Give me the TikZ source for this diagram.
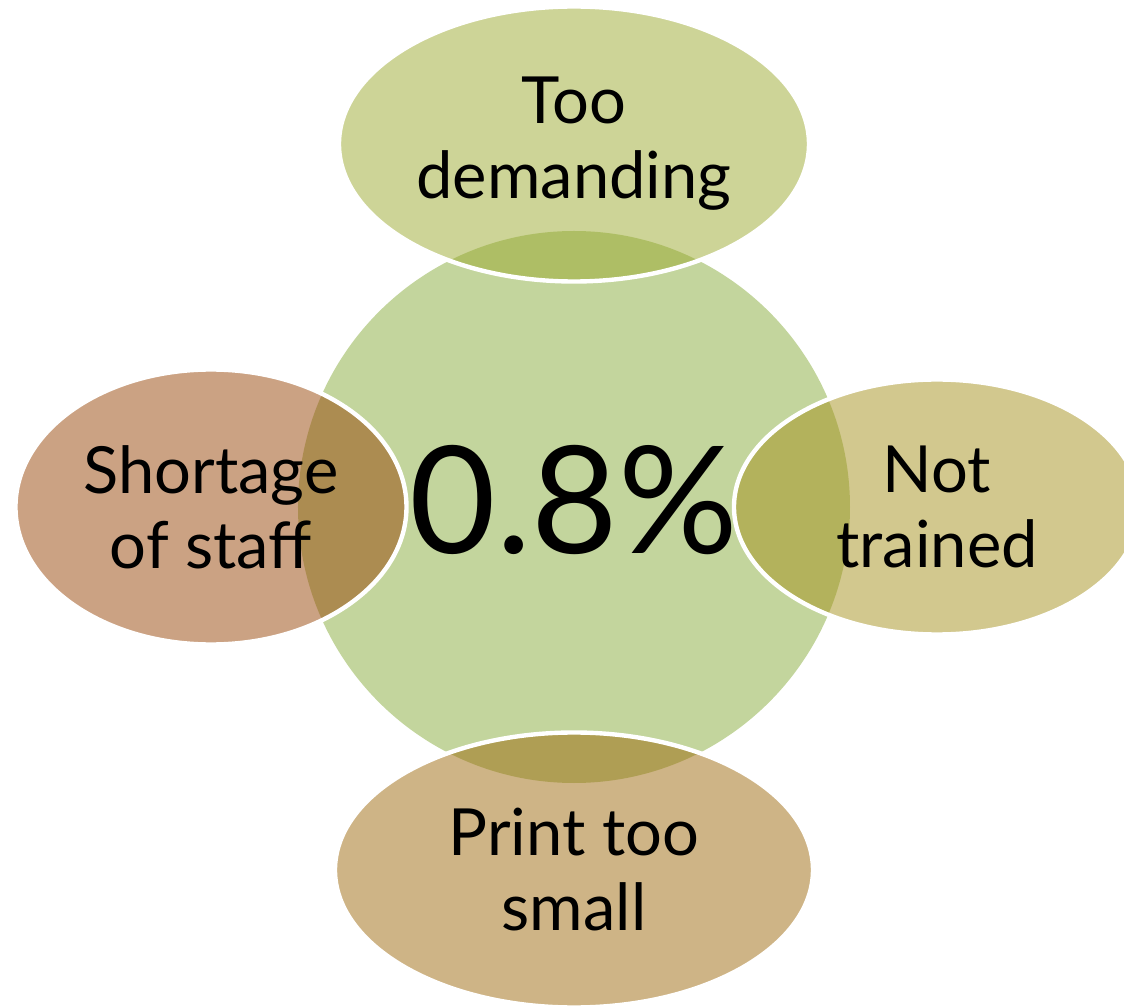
\documentclass[tikz,border=0pt]{standalone}
\usepackage{fontspec}
\setmainfont{Lato}
\usetikzlibrary{positioning,shapes.geometric}
\definecolor{hubgreen}{RGB}{195,213,157}
\definecolor{topolive}{RGB}{155,169,47}
\definecolor{leftrust}{RGB}{151,69,7}
\definecolor{rightkhaki}{RGB}{165,145,29}
\definecolor{bottomtan}{RGB}{157,105,13}
\begin{document}
\begin{tikzpicture}[
            hub/.style={circle,fill=hubgreen,minimum size=11.04cm,inner sep=0pt,text depth=0.3cm,font=\fontsize{85}{95}\selectfont},
            petal/.style={ellipse,draw=white,line width=2.5pt,fill opacity=0.5,text opacity=1,inner sep=0pt,align=center,minimum height=5.5cm,font=\fontsize{37}{42.7}\selectfont},
            node distance=7.26cm
        ]
            \useasboundingbox (-11.48,-9.98) rectangle (11.0,10.14);
            \node[hub] (hub) {0.8\%};
            \node[petal,fill=topolive,minimum width=9.4cm,above of=hub] (demanding) {Too\\demanding};
            \node[petal,fill=leftrust,minimum width=7.82cm,left of=hub] (staff) {Shortage\\of staff};
            \node[petal,fill=rightkhaki,minimum width=8.12cm,minimum height=5.1cm,right of=hub] (trained) {Not\\trained};
            \node[petal,fill=bottomtan,minimum width=9.56cm,below of=hub] (print) {Print too\\small};
        \end{tikzpicture}
\end{document}
